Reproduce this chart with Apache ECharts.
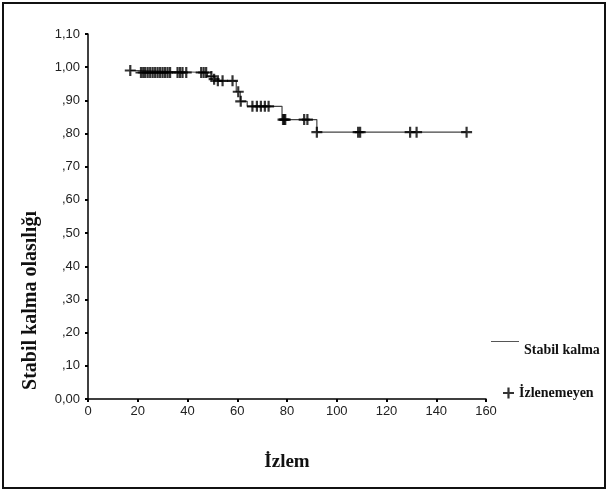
<!DOCTYPE html>
<html>
<head>
<meta charset="utf-8">
<script src="https://cdn.jsdelivr.net/npm/echarts@6/dist/echarts.min.js"></script>
<style>
  html, body { margin: 0; padding: 0; background: #fff; }
  #main { width: 609px; height: 491px; }
</style>
</head>
<body>
<div id="main"></div>
<script>
// Kaplan-Meier basamaklari: [izlem, stabil kalma olasiligi]
var stepTimes = [17, 20, 48, 51, 59.6, 61.2, 64, 78, 92, 152.2];
var stepValues = [0.99, 0.984, 0.972, 0.959, 0.926, 0.897, 0.882, 0.842, 0.804, 0.804];

// izlenemeyen (sansurlu) gozlemler
var censorTimes = [17, 21.3, 22.2, 23, 24, 25, 26, 27, 28, 29, 30, 31, 32, 33, 36, 37, 38, 39.5,
  45.5, 46.5, 47.5, 49.6, 50.7, 52.2, 54.1, 58.1, 60.4, 61.4,
  66.1, 67.9, 69.5, 71.1, 72.6, 78.4, 78.9, 79.3, 86.9, 88.2, 92,
  108.6, 109.4, 129.5, 132.1, 152.2];
var censorValues = [0.99, 0.984, 0.984, 0.984, 0.984, 0.984, 0.984, 0.984, 0.984, 0.984, 0.984, 0.984, 0.984, 0.984, 0.984, 0.984, 0.984, 0.984,
  0.984, 0.984, 0.984, 0.972, 0.964, 0.959, 0.959, 0.959, 0.926, 0.897,
  0.882, 0.882, 0.882, 0.882, 0.882, 0.842, 0.842, 0.842, 0.842, 0.842, 0.804,
  0.804, 0.804, 0.804, 0.804, 0.804];

var yTicks = ['0,00', ',10', ',20', ',30', ',40', ',50', ',60', ',70', ',80', ',90', '1,00', '1,10'];

var plusPath = 'path://M4,0H6V4H10V6H6V10H4V6H0V4H4Z';
// legend line sits above its text: a thin bar at the top plus a tiny dot that stretches the box
var topLinePath = 'path://M0,0H30V1H0ZM29.9,20H30V20.1H29.9Z';

var lineData = [];
for (var i = 0; i < stepTimes.length; i++) {
  lineData.push([stepTimes[i], stepValues[i]]);
}
var censorData = [];
for (var j = 0; j < censorTimes.length; j++) {
  censorData.push([censorTimes[j], censorValues[j]]);
}

var myChart = echarts.init(document.getElementById('main'));
var serif = '"Liberation Serif", "DejaVu Serif", serif';
var sans = '"Liberation Sans", Arial, sans-serif';

var option = {
  backgroundColor: '#fff',
  animation: false,
  grid: { left: 88, right: 123, top: 34, bottom: 92 },
  legend: [{
    data: ['Stabil kalma'],
    left: 486, top: 336,
    icon: topLinePath,
    itemWidth: 28, itemHeight: 25,
    textStyle: { fontFamily: serif, fontWeight: 'bold', fontSize: 14, color: '#111' }
  }, {
    data: ['İzlenemeyen'],
    left: 498, top: 381,
    itemWidth: 11, itemHeight: 11,
    textStyle: { fontFamily: serif, fontWeight: 'bold', fontSize: 14, color: '#111' }
  }],
  xAxis: {
    type: 'value',
    min: 0, max: 160, interval: 20,
    name: 'İzlem',
    nameLocation: 'middle',
    nameGap: 54,
    nameTextStyle: { fontFamily: serif, fontWeight: 'bold', fontSize: 19, color: '#111' },
    axisLine: { onZero: false, lineStyle: { color: '#000', width: 1.5 } },
    axisTick: { length: 3, lineStyle: { color: '#000', width: 2 } },
    axisLabel: { margin: 6, fontFamily: sans, fontSize: 13, color: '#222' },
    splitLine: { show: false }
  },
  yAxis: {
    type: 'value',
    min: 0, max: 1.1, interval: 0.1,
    name: 'Stabil kalma olasılığı',
    nameLocation: 'middle',
    nameGap: 47,
    nameTextStyle: { fontFamily: serif, fontWeight: 'bold', fontSize: 20, color: '#111', padding: [0, 168, 0, 0] },
    axisLine: { show: true, lineStyle: { color: '#000', width: 1.5 } },
    axisTick: { show: true, length: 3, lineStyle: { color: '#000', width: 2 } },
    axisLabel: {
      margin: 8, fontFamily: sans, fontSize: 13, color: '#222',
      formatter: function (v) { return yTicks[Math.round(v * 10)]; }
    },
    splitLine: { show: false }
  },
  graphic: [{
    type: 'rect',
    shape: { x: 3, y: 3, width: 602, height: 485 },
    style: { fill: 'none', stroke: '#111', lineWidth: 2 },
    silent: true
  }],
  series: [{
    name: 'Stabil kalma',
    type: 'line',
    step: 'end',
    data: lineData,
    showSymbol: false,
    symbol: 'none',
    itemStyle: { color: '#555' },
    lineStyle: { color: '#444', width: 1.2 },
    z: 2
  }, {
    name: 'İzlenemeyen',
    type: 'scatter',
    data: censorData,
    symbol: plusPath,
    symbolSize: 11,
    itemStyle: { color: '#000' },
    z: 3
  }]
};

myChart.setOption(option);
</script>
</body>
</html>
